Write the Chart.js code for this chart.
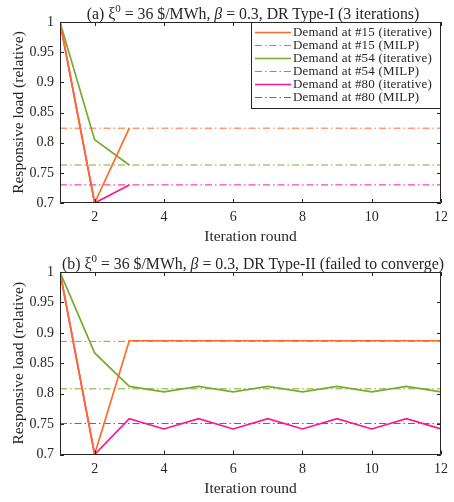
<!DOCTYPE html>
<html>
<head>
<meta charset="utf-8">
<script src="https://cdn.jsdelivr.net/npm/chart.js@4/dist/chart.umd.min.js"></script>
<style>
html,body{margin:0;padding:0;background:#fff;}
body{width:454px;height:502px;position:relative;overflow:hidden;font-family:"Liberation Serif","Times New Roman",serif;}
.wrap{position:absolute;left:0;width:454px;}
.title{position:absolute;left:60px;width:386px;text-align:center;font-size:15.8px;color:#262626;white-space:nowrap;line-height:16px;}
.title sup{font-size:11px;vertical-align:7px;line-height:0;}
</style>
</head>
<body>
<div class="wrap" style="top:0;height:250px;"><canvas id="c1" width="454" height="250"></canvas></div>
<div class="wrap" style="top:250px;height:252px;"><canvas id="c2" width="454" height="252"></canvas></div>
<div class="title" style="top:6px;">(a) ξ<sup>0</sup> = 36 $/MWh, <i>β</i> = 0.3, DR Type-I (3 iterations)</div>
<div class="title" style="top:256px;">(b) ξ<sup>0</sup> = 36 $/MWh, <i>β</i> = 0.3, DR Type-II (failed to converge)</div>
<script>
// ---- data ----
const xTicks = [2, 4, 6, 8, 10, 12];
const yTicks = [0.7, 0.75, 0.8, 0.85, 0.9, 0.95, 1];

const roundsA = [1, 2, 3];
const d15IterA = [1, 0.7, 0.824];
const d54IterA = [1, 0.805, 0.763];
const d80IterA = [1, 0.7, 0.73];
const d15MilpA = 0.824;
const d54MilpA = 0.763;
const d80MilpA = 0.73;

const roundsB = [1, 2, 3, 4, 5, 6, 7, 8, 9, 10, 11, 12];
const d15IterB = [1, 0.7, 0.887, 0.887, 0.887, 0.887, 0.887, 0.887, 0.887, 0.887, 0.887, 0.887];
const d54IterB = [1, 0.867, 0.812, 0.803, 0.812, 0.803, 0.812, 0.803, 0.812, 0.803, 0.812, 0.803];
const d80IterB = [1, 0.7, 0.759, 0.742, 0.759, 0.742, 0.759, 0.742, 0.759, 0.742, 0.759, 0.742];
const d15MilpB = 0.886;
const d54MilpB = 0.808;
const d80MilpB = 0.751;

const seriesNames = ['Demand at #15 (iterative)', 'Demand at #15 (MILP)',
  'Demand at #54 (iterative)', 'Demand at #54 (MILP)',
  'Demand at #80 (iterative)', 'Demand at #80 (MILP)'];

// ---- styles ----
const ORANGE = 'rgb(255,107,40)';
const GREEN = 'rgb(119,172,48)';
const MAGENTA = 'rgb(255,20,147)';
const AXIS = '#262626';
const DASHDOT = [7, 3, 1.5, 3];
const FONT = '"Liberation Serif","Times New Roman",serif';

function iterDs(label, xs, ys, color) {
  return { label, data: xs.map((x, i) => ({ x, y: ys[i] })), borderColor: color,
    borderWidth: 1.7, pointRadius: 0, tension: 0, fill: false };
}
function milpDs(label, v, color) {
  return { label, data: [{ x: 1, y: v }, { x: 12, y: v }], borderColor: color,
    borderWidth: 1, borderDash: DASHDOT, pointRadius: 0, tension: 0, fill: false };
}

const boxPlugin = {
  id: 'box',
  afterDatasetsDraw(chart) {
    const { ctx, chartArea: a, scales: { x, y } } = chart;
    ctx.save();
    ctx.strokeStyle = AXIS;
    ctx.lineWidth = 1;
    ctx.beginPath();
    ctx.rect(Math.round(a.left) + 0.5, Math.round(a.top) + 0.5,
      Math.round(a.right - a.left) - 1, Math.round(a.bottom - a.top) - 1);
    ctx.stroke();
    const L = 4;
    ctx.beginPath();
    x.ticks.forEach(t => {
      const px = Math.round(x.getPixelForValue(t.value)) + 0.5;
      ctx.moveTo(px, a.bottom); ctx.lineTo(px, a.bottom - L);
      ctx.moveTo(px, a.top); ctx.lineTo(px, a.top + L);
    });
    y.ticks.forEach(t => {
      const py = Math.round(y.getPixelForValue(t.value)) + 0.5;
      ctx.moveTo(a.left, py); ctx.lineTo(a.left + L, py);
      ctx.moveTo(a.right, py); ctx.lineTo(a.right - L, py);
    });
    ctx.stroke();
    ctx.restore();
  }
};

const legendPlugin = {
  id: 'boxLegend',
  afterDraw(chart) {
    const { ctx } = chart;
    ctx.save();
    const bx = 251.5, by = 22.5, bw = 189, bh = 86;
    ctx.fillStyle = '#fff';
    ctx.fillRect(bx, by, bw, bh);
    ctx.strokeStyle = AXIS;
    ctx.lineWidth = 1;
    ctx.strokeRect(bx, by, bw, bh);
    ctx.font = '13px ' + FONT;
    if ('letterSpacing' in ctx) ctx.letterSpacing = '0.2px';
    ctx.textBaseline = 'middle';
    chart.data.datasets.forEach((ds, i) => {
      const yy = 32.5 + i * 13;
      ctx.strokeStyle = ds.borderColor;
      ctx.lineWidth = ds.borderWidth;
      ctx.setLineDash(ds.borderDash || []);
      ctx.beginPath();
      ctx.moveTo(255, yy); ctx.lineTo(291, yy);
      ctx.stroke();
      ctx.setLineDash([]);
      ctx.fillStyle = AXIS;
      ctx.fillText(ds.label, 293, yy + 0.5);
    });
    ctx.restore();
  }
};

function makeChart(id, datasets, xAxisH, withLegend) {
  return new Chart(document.getElementById(id), {
    type: 'line',
    data: { datasets },
    options: {
      responsive: false,
      animation: false,
      layout: { padding: { top: 22, right: 8, left: 0, bottom: 0 } },
      plugins: { legend: { display: false }, tooltip: { enabled: false }, title: { display: false } },
      scales: {
        x: {
          type: 'linear', min: 1, max: 12,
          afterBuildTicks: s => { s.ticks = xTicks.map(v => ({ value: v })); },
          afterFit: s => { s.height = xAxisH; },
          grid: { display: false, drawTicks: false },
          border: { display: false },
          ticks: { color: AXIS, font: { family: FONT, size: 14 }, padding: 6, maxRotation: 0,
            callback: v => String(v) },
          title: { display: true, text: 'Iteration round', color: AXIS,
            font: { family: FONT, size: 15.5 }, padding: { top: 0, bottom: 4 } }
        },
        y: {
          type: 'linear', min: 0.7, max: 1,
          afterBuildTicks: s => { s.ticks = yTicks.map(v => ({ value: v })); },
          afterFit: s => { s.width = 60; },
          grid: { display: false, drawTicks: false },
          border: { display: false },
          ticks: { color: AXIS, font: { family: FONT, size: 14 }, padding: 6,
            callback: v => String(Math.round(v * 100) / 100) },
          title: { display: true, text: 'Responsive load (relative)', color: AXIS,
            font: { family: FONT, size: 15.5 }, padding: { top: 10, bottom: 0 } }
        }
      }
    },
    plugins: withLegend ? [boxPlugin, legendPlugin] : [boxPlugin]
  });
}

makeChart('c1', [
  iterDs(seriesNames[0], roundsA, d15IterA, ORANGE),
  milpDs(seriesNames[1], d15MilpA, ORANGE),
  iterDs(seriesNames[2], roundsA, d54IterA, GREEN),
  milpDs(seriesNames[3], d54MilpA, GREEN),
  iterDs(seriesNames[4], roundsA, d80IterA, MAGENTA),
  milpDs(seriesNames[5], d80MilpA, MAGENTA)
], 47, true);

makeChart('c2', [
  iterDs(seriesNames[0], roundsB, d15IterB, ORANGE),
  milpDs(seriesNames[1], d15MilpB, ORANGE),
  iterDs(seriesNames[2], roundsB, d54IterB, GREEN),
  milpDs(seriesNames[3], d54MilpB, GREEN),
  iterDs(seriesNames[4], roundsB, d80IterB, MAGENTA),
  milpDs(seriesNames[5], d80MilpB, MAGENTA)
], 47.5, false);
</script>
</body>
</html>
